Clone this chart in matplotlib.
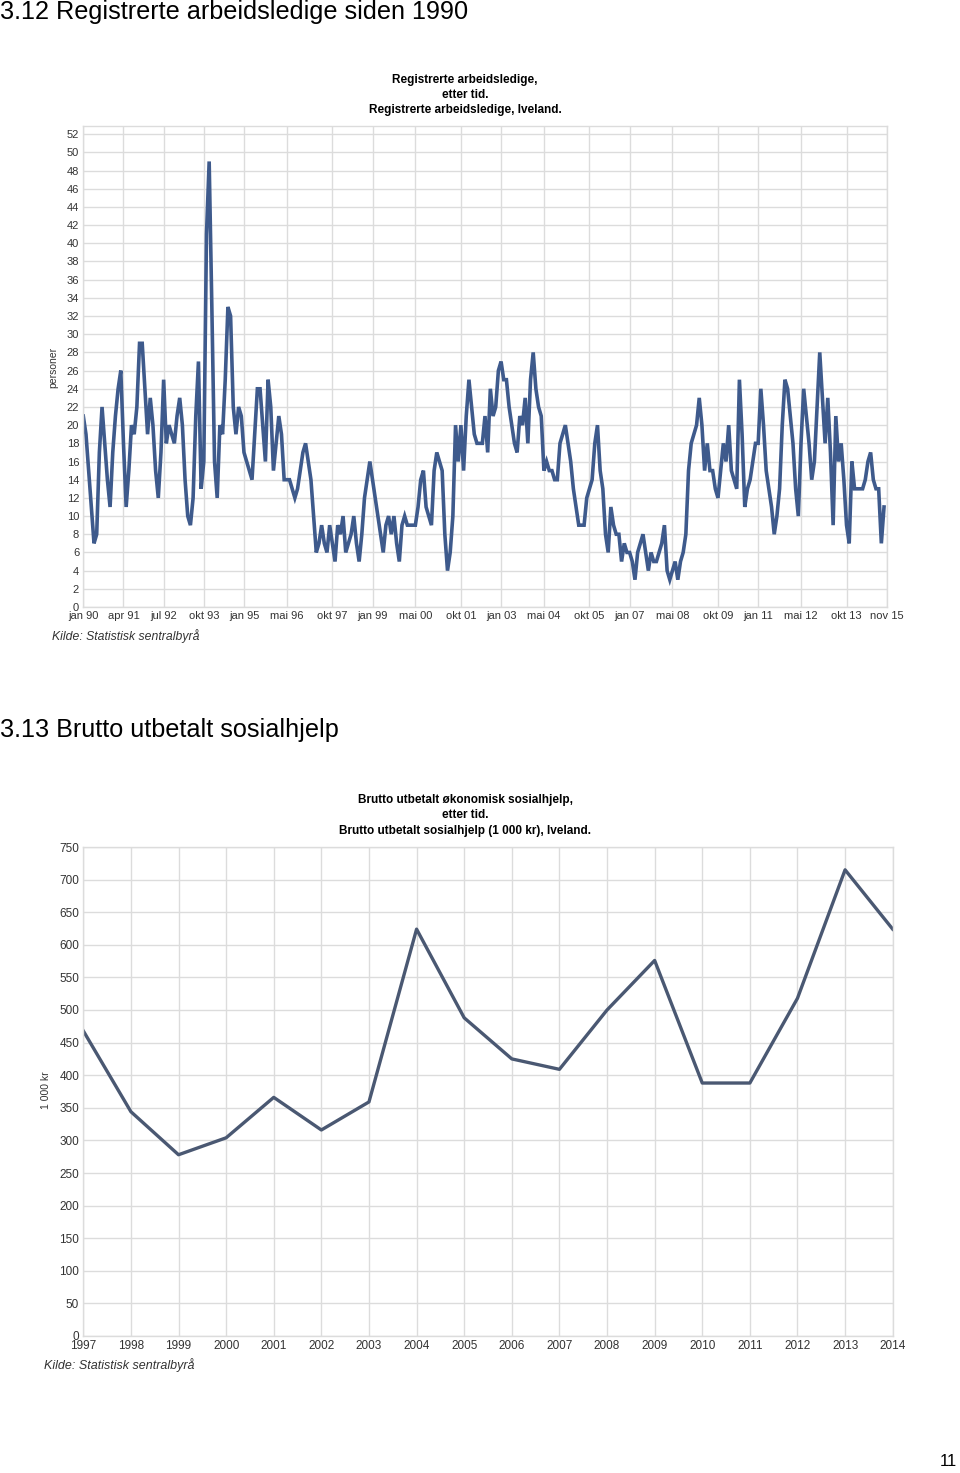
import matplotlib.pyplot as plt
import numpy as np

plt.rcParams['font.family'] = ['Liberation Sans', 'DejaVu Sans']

# registrerte arbeidsledige, Iveland, per måned fra jan 1990
ledige_1990_94 = [21, 19, 15, 11, 7, 8, 17, 22, 18, 14, 11, 17,
                  21, 24, 26, 18, 11, 15, 20, 19, 22, 29, 29, 24,
                  19, 23, 20, 15, 12, 17, 25, 18, 20, 19, 18, 21,
                  23, 20, 14, 10, 9, 12, 21, 27, 13, 16, 41, 49,
                  33, 16, 12, 20, 19, 25, 33, 32, 22, 19, 22, 21]
ledige_1995_99 = [17, 16, 15, 14, 19, 24, 24, 20, 16, 25, 22, 15,
                  18, 21, 19, 14, 14, 14, 13, 12, 13, 15, 17, 18,
                  16, 14, 10, 6, 7, 9, 7, 6, 9, 7, 5, 9,
                  8, 10, 6, 7, 8, 10, 7, 5, 8, 12, 14, 16,
                  14, 12, 10, 8, 6, 9, 10, 8, 10, 7, 5, 9]
ledige_2000_04 = [10, 9, 9, 9, 9, 11, 14, 15, 11, 10, 9, 15,
                  17, 16, 15, 8, 4, 6, 10, 20, 16, 20, 15, 21,
                  25, 22, 19, 18, 18, 18, 21, 17, 24, 21, 22, 26,
                  27, 25, 25, 22, 20, 18, 17, 21, 20, 23, 18, 25,
                  28, 24, 22, 21, 15, 16, 15, 15, 14, 14, 18, 19]
ledige_2005_09 = [20, 18, 16, 13, 11, 9, 9, 9, 12, 13, 14, 18,
                  20, 15, 13, 8, 6, 11, 9, 8, 8, 5, 7, 6,
                  6, 5, 3, 6, 7, 8, 6, 4, 6, 5, 5, 6,
                  7, 9, 4, 3, 4, 5, 3, 5, 6, 8, 15, 18,
                  19, 20, 23, 20, 15, 18, 15, 15, 13, 12, 15, 18]
ledige_2010_14 = [16, 20, 15, 14, 13, 25, 19, 11, 13, 14, 16, 18,
                  18, 24, 20, 15, 13, 11, 8, 10, 13, 20, 25, 24,
                  21, 18, 13, 10, 18, 24, 21, 18, 14, 16, 22, 28,
                  23, 18, 23, 17, 9, 21, 16, 18, 14, 9, 7, 16,
                  13, 13, 13, 13, 14, 16, 17, 14, 13, 13, 7, 11]

maaned_labels = ['jan 90', 'apr 91', 'jul 92', 'okt 93', 'jan 95', 'mai 96', 'okt 97',
                 'jan 99', 'mai 00', 'okt 01', 'jan 03', 'mai 04', 'okt 05', 'jan 07',
                 'mai 08', 'okt 09', 'jan 11', 'mai 12', 'okt 13', 'nov 15']
maaned_pos = [0, 15, 30, 45, 60, 76, 93, 108, 124, 141, 156, 172, 189, 204,
              220, 237, 252, 268, 285, 300]

# brutto utbetalt sosialhjelp (1 000 kr)
aar = [1997, 1998, 1999, 2000, 2001, 2002, 2003, 2004, 2005,
       2006, 2007, 2008, 2009, 2010, 2011, 2012, 2013, 2014]
sosialhjelp = [468, 344, 278, 304, 366, 316, 359, 624, 488,
               425, 409, 500, 576, 388, 388, 518, 715, 624]

ledige = ledige_1990_94 + ledige_1995_99 + ledige_2000_04 + ledige_2005_09 + ledige_2010_14

W, H = 960, 1473
fig = plt.figure(figsize=(W / 100, H / 100), dpi=100)
grid_col = '#dcdcdc'
txt_col = '#333333'


def fx(px):
    return px / W


def fy(py):
    return 1 - py / H


def style_axes(ax):
    ax.grid(True, color=grid_col, linewidth=1)
    ax.set_axisbelow(True)
    for s in ax.spines.values():
        s.set_color(grid_col)
        s.set_linewidth(1)
    ax.tick_params(length=0, colors=txt_col, pad=3)


# --- 3.12 ---
fig.text(0.0, fy(12), '3.12 Registrerte arbeidsledige siden 1990', fontsize=18.2, va='center', ha='left')
for yy, t in zip([80, 95, 110], ['Registrerte arbeidsledige,', 'etter tid.',
                                 'Registrerte arbeidsledige, Iveland.']):
    fig.text(fx(465), fy(yy), t, fontsize=8.5, fontweight='bold', ha='center', va='center')

ax1 = fig.add_axes([fx(83.3), fy(607), fx(886.7 - 83.3), (607 - 126) / H])
x = np.arange(len(ledige))
ax1.plot(x, ledige, color='#3e5a8c', linewidth=2.6, solid_joinstyle='miter')
ax1.set_xlim(0, 300)
ax1.set_ylim(0, 52.9)
ax1.set_yticks(range(0, 53, 2))
ax1.set_xticks(maaned_pos)
ax1.set_xticklabels(maaned_labels)
style_axes(ax1)
ax1.tick_params(labelsize=8)
fig.text(fx(53), fy(367), 'personer', rotation=90, fontsize=7.5, ha='center', va='center', color=txt_col)
fig.text(fx(52), fy(636), 'Kilde: Statistisk sentralbyrå', fontsize=8.8, style='italic',
         ha='left', va='center', color=txt_col)

# --- 3.13 ---
fig.text(0.0, fy(730), '3.13 Brutto utbetalt sosialhjelp', fontsize=18.2, va='center', ha='left')
for yy, t in zip([800, 815, 831], ['Brutto utbetalt økonomisk sosialhjelp,', 'etter tid.',
                                   'Brutto utbetalt sosialhjelp (1 000 kr), Iveland.']):
    fig.text(fx(465), fy(yy), t, fontsize=8.5, fontweight='bold', ha='center', va='center')

ax2 = fig.add_axes([fx(83.3), fy(1336), fx(892.7 - 83.3), (1336 - 847) / H])
ax2.plot(aar, sosialhjelp, color='#4a5872', linewidth=2.4)
ax2.set_xlim(1997, 2014)
ax2.set_ylim(0, 750)
ax2.set_yticks(range(0, 751, 50))
ax2.set_xticks(aar)
style_axes(ax2)
ax2.tick_params(labelsize=8.5)
fig.text(fx(46), fy(1090), '1 000 kr', rotation=90, fontsize=7.5, ha='center', va='center', color=txt_col)
fig.text(fx(44), fy(1365), 'Kilde: Statistisk sentralbyrå', fontsize=9, style='italic',
         ha='left', va='center', color=txt_col)

fig.text(fx(948), fy(1462), '11', fontsize=12, ha='center', va='center')

fig.savefig('out.png', dpi=100)
